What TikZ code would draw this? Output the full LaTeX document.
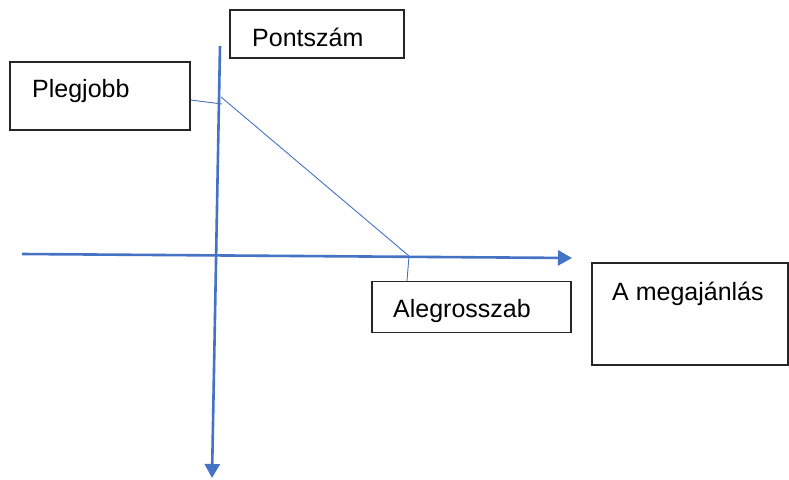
\documentclass[tikz,border=0pt]{standalone}
\usepackage{fontspec}
\setmainfont{Liberation Sans}
\usetikzlibrary{arrows.meta}
\definecolor{axisblue}{HTML}{4472C4}

\begin{document}
\begin{tikzpicture}[x=1pt, y=-1pt,
    box/.style={draw=black!85, line width=1.3pt, inner sep=0pt},
    boxtext/.style={anchor=base west, inner sep=0pt, font=\fontsize{25}{30}\selectfont},
    axis/.style={draw=axisblue, line width=2.6pt, -{Triangle[length=14pt, width=15pt]}},
    guide/.style={draw=axisblue, line width=0.9pt}]
    \useasboundingbox (0, 0) rectangle (789, 479);
    \node (pbox) [box, minimum width=174pt, minimum height=48pt] at (317, 34) {};
    \node (ptext) [boxtext] at (252, 46) {Pontszám};
    \node (jbox) [box, minimum width=180pt, minimum height=68pt] at (100, 96) {};
    \node (jtext) [boxtext] at (32, 97) {Plegjobb};
    \node (abox) [box, minimum width=199pt, minimum height=51pt] at (471.5, 307) {};
    \node (atext) [boxtext] at (393, 317) {Alegrosszab};
    \node (mbox) [box, minimum width=196pt, minimum height=102pt] at (690, 314) {};
    \node (mtext) [boxtext] at (612, 300) {A megajánlás};
    \coordinate (ytop) at (220, 46);
    \coordinate (ybot) at (212, 478);
    \coordinate (xleft) at (22, 254);
    \coordinate (xright) at (572, 258);
    \coordinate (best) at (221, 97);
    \coordinate (worst) at (409, 256);
    \coordinate (mark) at (222, 104);
    \draw[axis] (ytop) -- (ybot);
    \draw[axis] (xleft) -- (xright);
    \draw[guide] (best) -- (worst);
    \draw[guide] (jbox.east |- 0, 100) -- (mark);
    \draw[guide] (worst) -- (abox.north -| 407, 0);
\end{tikzpicture}
\end{document}
